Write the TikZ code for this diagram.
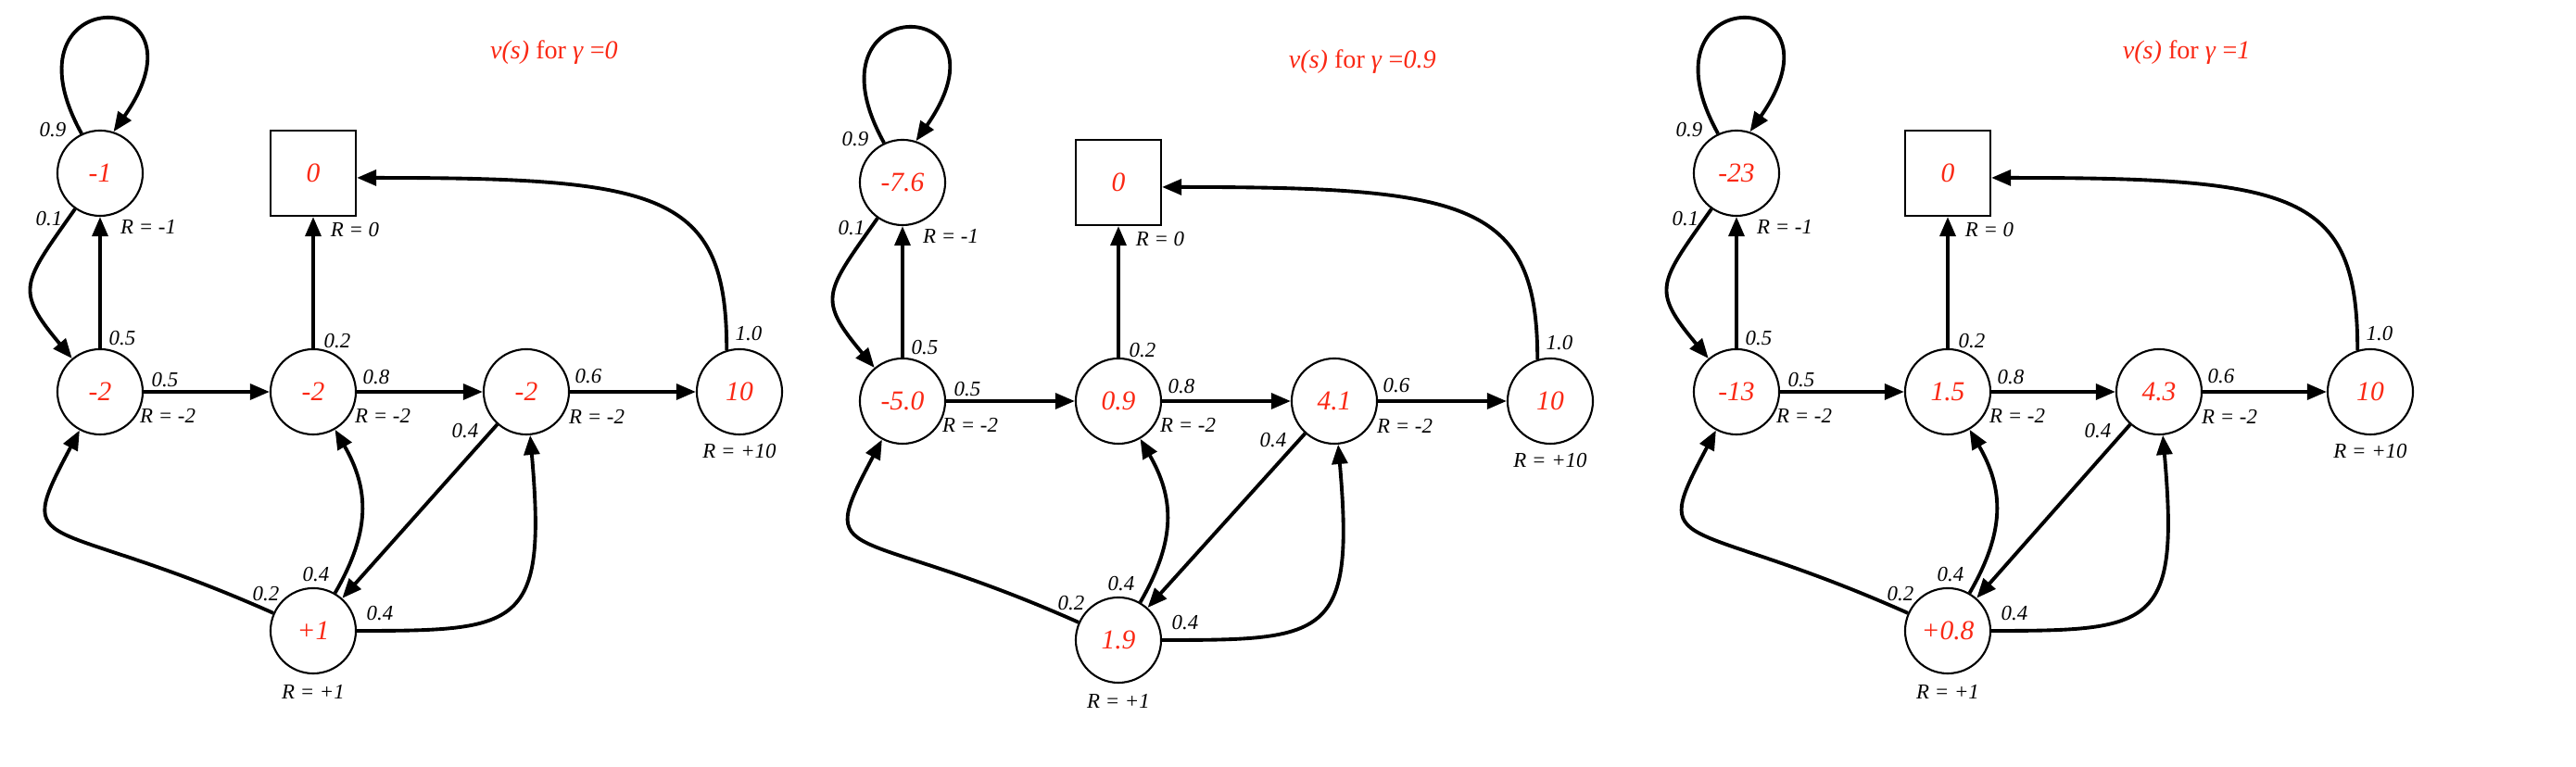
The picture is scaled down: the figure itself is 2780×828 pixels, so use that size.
\documentclass[tikz,border=0pt]{standalone}
\usepackage{fontspec}
\setmainfont{Liberation Serif}
\usetikzlibrary{arrows.meta}

\definecolor{valred}{RGB}{250,40,20}

\tikzset{
  vstate/.style={draw, circle, line width=0.6pt, minimum size=0.92cm, inner sep=0pt,
    text=valred, font=\fontsize{8.4}{10}\selectfont\itshape},
  endbox/.style={vstate, rectangle},
  trans/.style={->, line width=1.1pt},
  prob/.style={font=\fontsize{6.5}{8}\selectfont\itshape, inner sep=0pt},
  heading/.style={text=valred, font=\fontsize{8}{10}\selectfont, inner sep=0pt}
}

% #1,#2 = shift, #3 = column step, #4 = gamma, #5..#9 = values
\newcommand{\valuepanel}[9]{%
  \begin{scope}[shift={(#1,#2)}]
    % states
    \node[vstate] (A) at (0,0) {#6};
    \node[vstate] (T) at (0,236) {#5};
    \node[endbox] (S) at (#3,236) {0};
    \node[vstate] (B) at (#3,0) {#7};
    \node[vstate] (C) at (2*#3,0) {#8};
    \node[vstate] (Ten) at (3*#3,0) {10};
    \node[vstate] (D) at (#3,-258) {#9};
    \node[heading] (ttl) at (2.13*#3,366) {\textit{v(s)} for \textit{γ} =\textit{#4}};

    % transitions
    \draw[trans] (T.115) .. controls +(-92,166) and +(112,160) .. (T.72);
    \draw[trans] (T) to[out=235,in=130,looseness=1.55] (A);
    \draw[trans] (A) -- (T);
    \draw[trans] (A) -- (B);
    \draw[trans] (B) -- (C);
    \draw[trans] (C) -- (Ten);
    \draw[trans] (B) -- (S);
    \draw[trans] (Ten.107) .. controls +(0,170) and +(330,0) .. (S.-6);
    \draw[trans] (C) -- (D);
    \draw[trans] (D) to[out=156,in=242,out looseness=2.4,in looseness=1.4] (A);
    \draw[trans] (D) to[out=60,in=300,looseness=1.1] (B);
    \draw[trans] (D) to[out=0,in=275,out looseness=1.6,in looseness=1.9] (C);

    % probabilities and rewards
    \node[prob] (pTT) at ([shift={(-51,47)}]T) {0.9};
    \node[prob] (pTA) at ([shift={(-55,-49)}]T) {0.1};
    \node[prob] (rT) at ([shift={(52,-58)}]T) {R = -1};
    \node[prob] (pAT) at ([shift={(24,58)}]A) {0.5};
    \node[prob] (pAB) at ([shift={(70,13)}]A) {0.5};
    \node[prob] (rA) at ([shift={(73,-26)}]A) {R = -2};
    \node[prob] (rS) at ([shift={(45,-61)}]S) {R = 0};
    \node[prob] (pBS) at ([shift={(26,55)}]B) {0.2};
    \node[prob] (pBC) at ([shift={(68,16)}]B) {0.8};
    \node[prob] (rB) at ([shift={(75,-26)}]B) {R = -2};
    \node[prob] (pCT) at ([shift={(67,17)}]C) {0.6};
    \node[prob] (rC) at ([shift={(76,-27)}]C) {R = -2};
    \node[prob] (pCD) at ([shift={(-66,-42)}]C) {0.4};
    \node[prob] (pTS) at ([shift={(10,63)}]Ten) {1.0};
    \node[prob] (rTen) at ([shift={(0,-64)}]Ten) {R = +10};
    \node[prob] (pDA) at ([shift={(-51,40)}]D) {0.2};
    \node[prob] (pDB) at ([shift={(3,61)}]D) {0.4};
    \node[prob] (pDC) at ([shift={(72,19)}]D) {0.4};
    \node[prob] (rD) at ([shift={(0,-66)}]D) {R = +1};
  \end{scope}}

\begin{document}
\begin{tikzpicture}[x=0.01cm, y=0.01cm, >={Triangle[length=6pt,width=4.8pt]}]
    \useasboundingbox (0,0) rectangle (2780,828);

    % gamma = 0
    \valuepanel{108}{405}{230}{0}{-1}{-2}{-2}{-2}{+1}
    % gamma = 0.9
    \valuepanel{974}{395}{233}{0.9}{-7.6}{-5.0}{0.9}{4.1}{1.9}
    % gamma = 1
    \valuepanel{1874}{405}{228}{1}{-23}{-13}{1.5}{4.3}{+0.8}
\end{tikzpicture}
\end{document}
